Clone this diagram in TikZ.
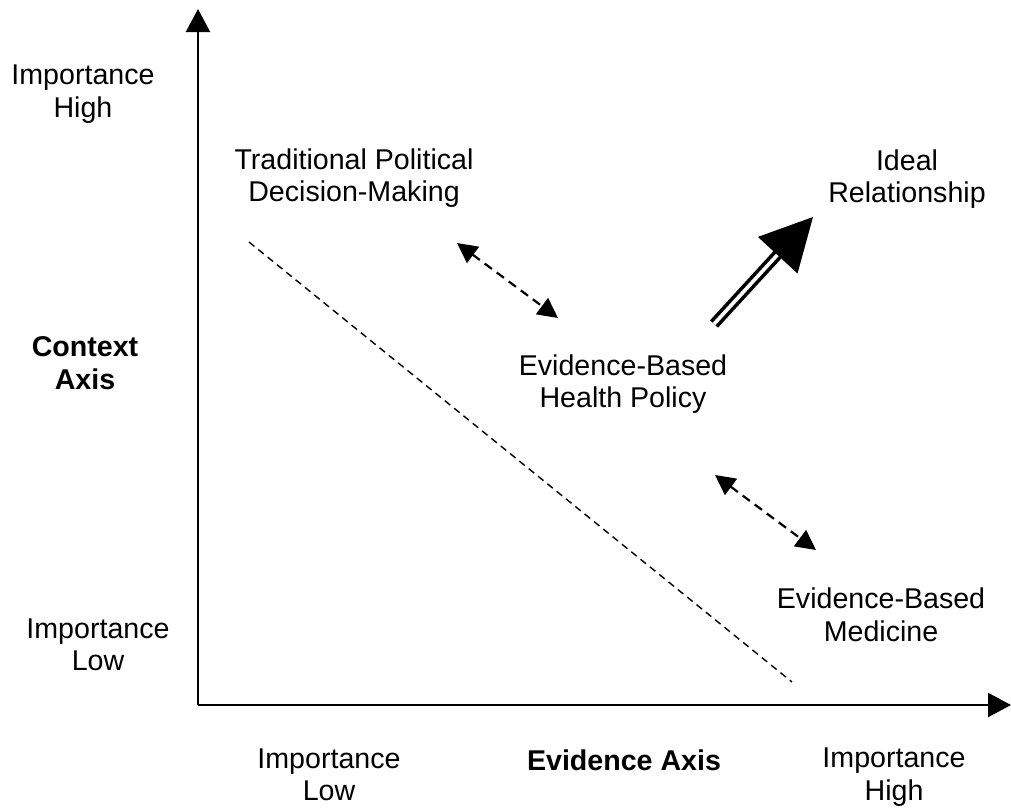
\documentclass[tikz,border=0pt]{standalone}
\usepackage{fontspec}
\setmainfont{Liberation Sans}
\usetikzlibrary{arrows.meta}
\begin{document}
\begin{tikzpicture}[x=1pt,y=-1pt,
  lbl/.style={align=center,inner sep=0pt,font=\fontsize{28.6}{32.5}\selectfont},
  blbl/.style={lbl,font=\fontsize{28.6}{32.5}\selectfont\bfseries},
  axis/.style={line width=2.2pt,-{Triangle[length=23pt,width=24pt]}},
  darrow/.style={line width=2.2pt,dash pattern=on 9pt off 6pt,{Triangle[length=20pt,width=20pt]}-{Triangle[length=20pt,width=20pt]}}
]
\useasboundingbox (0,0) rectangle (1011,807);
% axes
\coordinate (O) at (198,705);
\coordinate (ytip) at (198,9);
\coordinate (xtip) at (1011,705);
\draw[axis] (O) -- (ytip);
\draw[axis] (O) -- (xtip);
% labels
\node[lbl] (yhigh) at (83,94) {Importance\\High};
\node[blbl] (yaxis) at (85,363) {Context\\Axis};
\node[lbl] (ylow) at (98,645) {Importance\\Low};
\node[lbl] (xlow) at (329,775) {Importance\\Low};
\node[blbl] (xaxis) at (624,760) {Evidence Axis};
\node[lbl] (xhigh) at (894,777) {Importance\\High};
\node[lbl] (trad) at (354,178) {Traditional Political\\Decision-Making};
\node[lbl] (ideal) at (907,179) {Ideal\\Relationship};
\node[lbl] (ebhp) at (623,384) {Evidence-Based\\Health Policy};
\node[lbl] (ebm) at (881,615) {Evidence-Based\\Medicine};
% dashed diagonal
\coordinate (d1) at (249,242);
\coordinate (d2) at (792,682);
\draw[line width=1.4pt,dash pattern=on 7pt off 5pt] (d1) -- (d2);
% dashed double arrows
\coordinate (a1) at (457,243);
\coordinate (a2) at (558,318);
\draw[darrow] (a1) -- (a2);
\coordinate (b1) at (715,475);
\coordinate (b2) at (816,550);
\draw[darrow] (b1) -- (b2);
% double-line arrow
\coordinate (tail) at (714,324);
\coordinate (tip) at (813,217);
\coordinate (base) at (780,252);
\draw[line width=3.6pt,double,double distance=3.6pt] (tail) -- (base);
\fill (tip) -- (797.5,273.5) -- (757.9,236.9) -- cycle;
\end{tikzpicture}
\end{document}
